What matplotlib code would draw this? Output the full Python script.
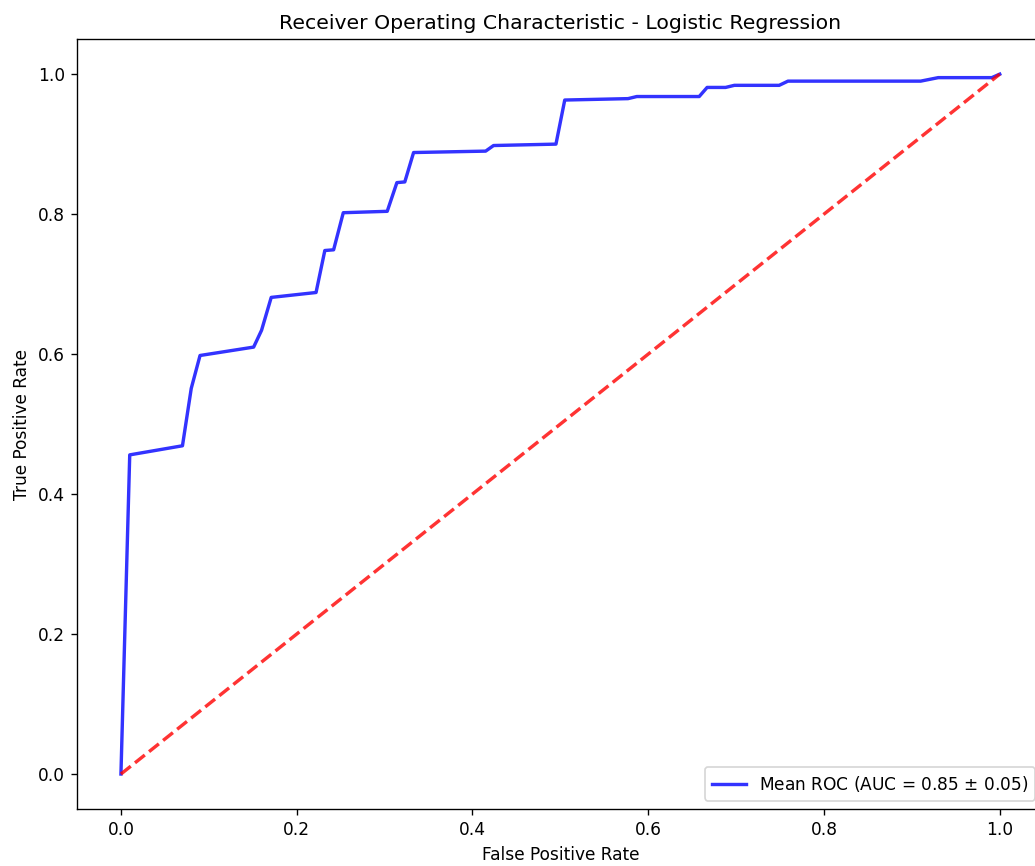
import matplotlib
matplotlib.use("Agg")
import matplotlib.pyplot as plt

# mean ROC curve points
mean_fpr = [0.0, 0.01, 0.07, 0.08, 0.09, 0.151, 0.16, 0.171, 0.222, 0.232, 0.242,
            0.253, 0.303, 0.314, 0.323, 0.333, 0.415, 0.424, 0.495, 0.505, 0.577,
            0.587, 0.658, 0.667, 0.688, 0.698, 0.749, 0.759, 0.910, 0.930, 0.991, 1.0]
mean_tpr = [0.0, 0.456, 0.469, 0.551, 0.598, 0.610, 0.634, 0.681, 0.688, 0.748, 0.749,
            0.802, 0.804, 0.845, 0.846, 0.888, 0.890, 0.898, 0.900, 0.963, 0.965,
            0.968, 0.968, 0.981, 0.981, 0.984, 0.984, 0.990, 0.990, 0.995, 0.995, 1.0]
mean_auc = 0.85
std_auc = 0.05

dpi = 122
fig = plt.figure(figsize=(1035 / dpi, 866 / dpi), dpi=dpi)
# axes run a bit past the right edge, like the cropped original
ax = fig.add_axes([0.0744, 0.0658, 0.934, 0.889])

ax.plot(mean_fpr, mean_tpr, color='b', lw=2, alpha=0.8,
        label=f'Mean ROC (AUC = {mean_auc:.2f} $\\pm$ {std_auc:.2f})')
ax.plot([0, 1], [0, 1], linestyle='--', lw=2, color='r', alpha=0.8)

ax.set_xlim(-0.05, 1.05)
ax.set_ylim(-0.05, 1.05)
ax.set_xlabel('False Positive Rate')
ax.set_ylabel('True Positive Rate')
ax.set_title('Receiver Operating Characteristic - Logistic Regression')
ax.legend(loc='lower right')

fig.savefig('out.png', dpi=dpi)
plt.close(fig)
